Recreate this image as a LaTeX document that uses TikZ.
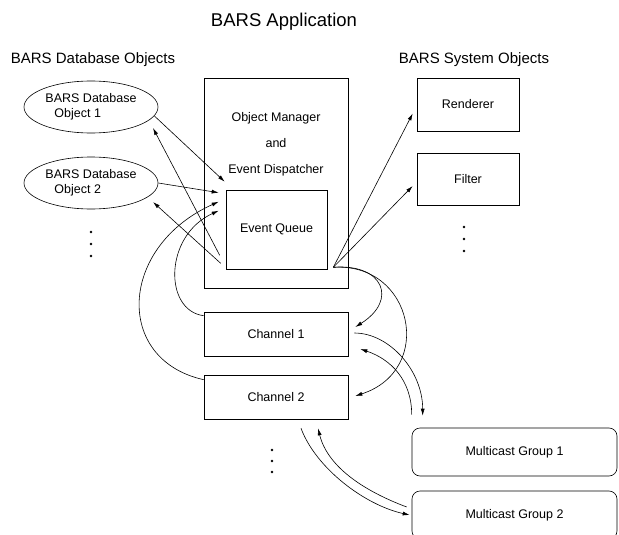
\documentclass[tikz,border=0pt]{standalone}
\usepackage{fontspec}
\setmainfont{Liberation Sans}
\usetikzlibrary{shapes.geometric,arrows.meta,positioning,calc}

\begin{document}
\begin{tikzpicture}[x=1pt, y=-1pt,
    box/.style={rectangle, draw, line width=0.6pt, inner sep=0pt, align=center, font=\fontsize{12.5}{15}\selectfont},
    dbobj/.style={ellipse, draw, line width=0.6pt, inner sep=0pt, minimum width=134pt, minimum height=52pt, align=left, font=\fontsize{12.5}{15}\selectfont},
    mcast/.style={box, rounded corners=8pt, minimum width=205pt, minimum height=48pt},
    chan/.style={box, minimum width=144pt, minimum height=44pt},
    sysobj/.style={box, minimum width=102pt, minimum height=53pt},
    head/.style={font=\fontsize{15}{18}\selectfont},
    arr/.style={-{Latex[length=7pt,width=4pt]}, line width=0.6pt}
  ]
    \clip (0,0) rectangle (619,535);
    \node[font=\fontsize{18.5}{22}\selectfont] (title) at (284,22) {BARS Application};
    \node[head] (dbhead) at (93,60) {BARS Database Objects};
    \node[head] (syshead) at (474,60) {BARS System Objects};

    \node[dbobj] (db1) at (91,107) {BARS Database\\\hspace*{9pt}Object 1};
    \node[dbobj] (db2) at (91,183) {BARS Database\\\hspace*{9pt}Object 2};

    \node[box, minimum width=144pt, minimum height=210pt] (mgr) at (276,183) {};
    \node[align=center, font=\fontsize{12.5}{15}\selectfont] (mgrtxt) at (276,144) {Object Manager\\[11pt]and\\[11pt]Event Dispatcher};
    \node[box, minimum width=101pt, minimum height=79pt] (queue) at (276.5,229.5) {Event Queue};

    \node[sysobj] (rend) at (468,104.5) {Renderer};
    \node[sysobj, minimum height=52pt] (filt) at (468,179) {Filter};

    \node[chan] (chan1) at (276,334) {Channel 1};
    \node[chan] (chan2) at (276,397) {Channel 2};

    \node[mcast] (mc1) at (514.5,452) {Multicast Group 1};
    \node[mcast] (mc2) at (514.5,515) {Multicast Group 2};

    \foreach \x/\y in {91/232, 91/244, 91/256, 464/227, 464/239, 464/251, 272/450, 272/461, 272/472}
      \fill (\x,\y) circle (1.4pt);

    % ends of the connectors
    \coordinate (qsw1) at ($(queue.south west)+(-6,-14)$);
    \coordinate (qsw2) at ($(queue.south west)+(-5,-6)$);
    \coordinate (qse) at ($(queue.south east)+(6,-2)$);
    \coordinate (qin1) at ($(queue.north west)+(-1,-8)$);
    \coordinate (qin2) at ($(queue.north west)+(-7,3)$);
    \coordinate (qin3) at ($(queue.north west)+(-7,12)$);
    \coordinate (qin4) at ($(queue.north west)+(-7,21)$);
    \coordinate (db1tip) at ($(db1.center)+(62,21)$);
    \coordinate (db2tip) at ($(db2.center)+(62,19)$);
    \coordinate (rendtip) at ($(rend.west)+(-4,9)$);
    \coordinate (filttip) at ($(filt.west)+(-4,7)$);
    \coordinate (c1out) at ($(chan1.north west)+(0,4)$);
    \coordinate (c2out) at ($(chan2.north west)+(0,5)$);
    \coordinate (c1tip) at ($(chan1.east)+(7,-7)$);
    \coordinate (c2tip) at ($(chan2.east)+(7,-1)$);
    \coordinate (c1right) at ($(chan1.east)+(6,-1)$);
    \coordinate (c1back) at ($(chan1.east)+(12,15)$);
    \coordinate (c2low) at ($(chan2.south)+(25,9)$);
    \coordinate (c2back) at ($(chan2.south)+(42,9)$);
    \coordinate (m1tip) at ($(mc1.north west)+(11,-12)$);
    \coordinate (m1out) at ($(mc1.north west)+(0,-13)$);
    \coordinate (m2tip) at ($(mc2.west)+(-2,0)$);
    \coordinate (m2out) at ($(mc2.west)+(-5,-8)$);

    \draw[arr] (db1.-8) -- (qin1);
    \draw[arr] (db2.east) -- (qin2);
    \draw[arr] (qsw1) -- (db1tip);
    \draw[arr] (qsw2) -- (db2tip);
    \draw[arr] (qse) -- (rendtip);
    \draw[arr] (qse) -- (filttip);

    \draw[arr] (c2out) .. controls +(-90,-20) and +(-100,45) .. (qin3);
    \draw[arr] (c1out) .. controls +(-40,-5) and +(-55,25) .. (qin4);
    \draw[arr] (qse) .. controls +(50,-4) and +(43,-27) .. (c1tip);
    \draw[arr] (qse) .. controls +(80,-5) and +(80,-26) .. (c2tip);
    \draw[arr] (c1right) .. controls +(35,0) and +(0,-45) .. (m1tip);
    \draw[arr] (m1out) .. controls +(0,-35) and +(30,10) .. (c1back);
    \draw[arr] (c2low) .. controls +(15,40) and +(-45,-10) .. (m2tip);
    \draw[arr] (m2out) .. controls +(-40,-15) and +(10,40) .. (c2back);
\end{tikzpicture}
\end{document}
